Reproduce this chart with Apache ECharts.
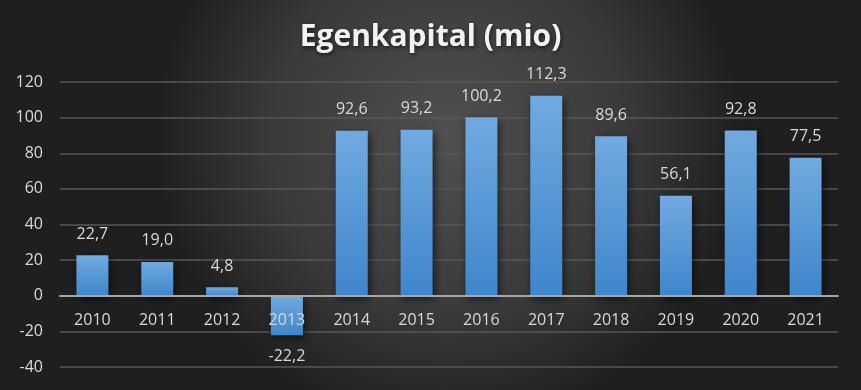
<!DOCTYPE html>
<html><head><meta charset="utf-8">
<script src="https://cdn.jsdelivr.net/npm/echarts@6/dist/echarts.min.js"></script>
<style>html,body{margin:0;padding:0;background:#2a2a2a}#c{width:861px;height:390px}</style>
</head><body><div id="c"></div>
<script>
const categories = ['2010','2011','2012','2013','2014','2015','2016','2017','2018','2019','2020','2021'];
const values = [22.7, 19.0, 4.8, -22.2, 92.6, 93.2, 100.2, 112.3, 89.6, 56.1, 92.8, 77.5];
const yTicks = [-40, -20, 0, 20, 40, 60, 80, 100, 120];
const titleText = 'Egenkapital (mio)';

const chart = echarts.init(document.getElementById('c'), null, {renderer:'canvas'});
const fmt = v => v.toFixed(1).replace('.', ',');
const gridTop = 82, gridBottom = 23, H = 390;
const yMin = yTicks[0], yMax = yTicks[yTicks.length-1];
// pixel shift of the category axis so it sits on the zero line
const plotH = H - gridTop - gridBottom;
const zeroOffset = -plotH * (0 - yMin) / (yMax - yMin);
chart.setOption({
  backgroundColor: {
    type: 'radial', x: 0.52, y: 0.35, r: 0.75,
    colorStops: [{offset:0, color:'#505050'},{offset:0.6,color:'#3a3a3a'},{offset:1,color:'#1f1f1f'}]
  },
  title: {
    text: titleText, left: 'center', top: 17,
    textStyle: {color:'#f2f2f2', fontFamily:'Open Sans', fontWeight:'bold', fontSize:30,
      textShadowColor:'rgba(0,0,0,0.6)', textShadowBlur:4, textShadowOffsetX:1, textShadowOffsetY:2}
  },
  grid: {left:60, right:23, top:gridTop, bottom:gridBottom, containLabel:false, outerBoundsMode:'none'},
  xAxis: {
    type:'category', data: categories, position:'bottom', offset: zeroOffset, z: 10,
    axisLine:{onZero:false, lineStyle:{color:'#a6a6a6', width:2}},
    axisTick:{show:false},
    axisLabel:{color:'#d9d9d9', fontSize:16, fontFamily:'Open Sans', margin:17}
  },
  yAxis: {
    type:'value', min: yMin, max: yMax, interval: 20,
    axisLine:{show:false}, axisTick:{show:false},
    axisLabel:{color:'#d9d9d9', fontSize:16, fontFamily:'Open Sans', margin:17},
    splitLine:{lineStyle:{color:'#575757', width:1.5}}
  },
  series: [{
    type:'bar', barWidth:32,
    data: values.map(v => ({value:v, label:{position: v < 0 ? 'bottom' : 'top'}})),
    label:{show:true, color:'#d9d9d9', fontSize:16, fontFamily:'Open Sans', distance:13, formatter: p => fmt(p.value)},
    itemStyle:{
      color:{type:'linear', x:0,y:0,x2:0,y2:1, colorStops:[{offset:0,color:'#71aae0'},{offset:1,color:'#3e86cb'}]},
      shadowColor:'rgba(0,0,0,0.6)', shadowBlur:8, shadowOffsetX:2, shadowOffsetY:3
    }
  }]
});
</script></body></html>
